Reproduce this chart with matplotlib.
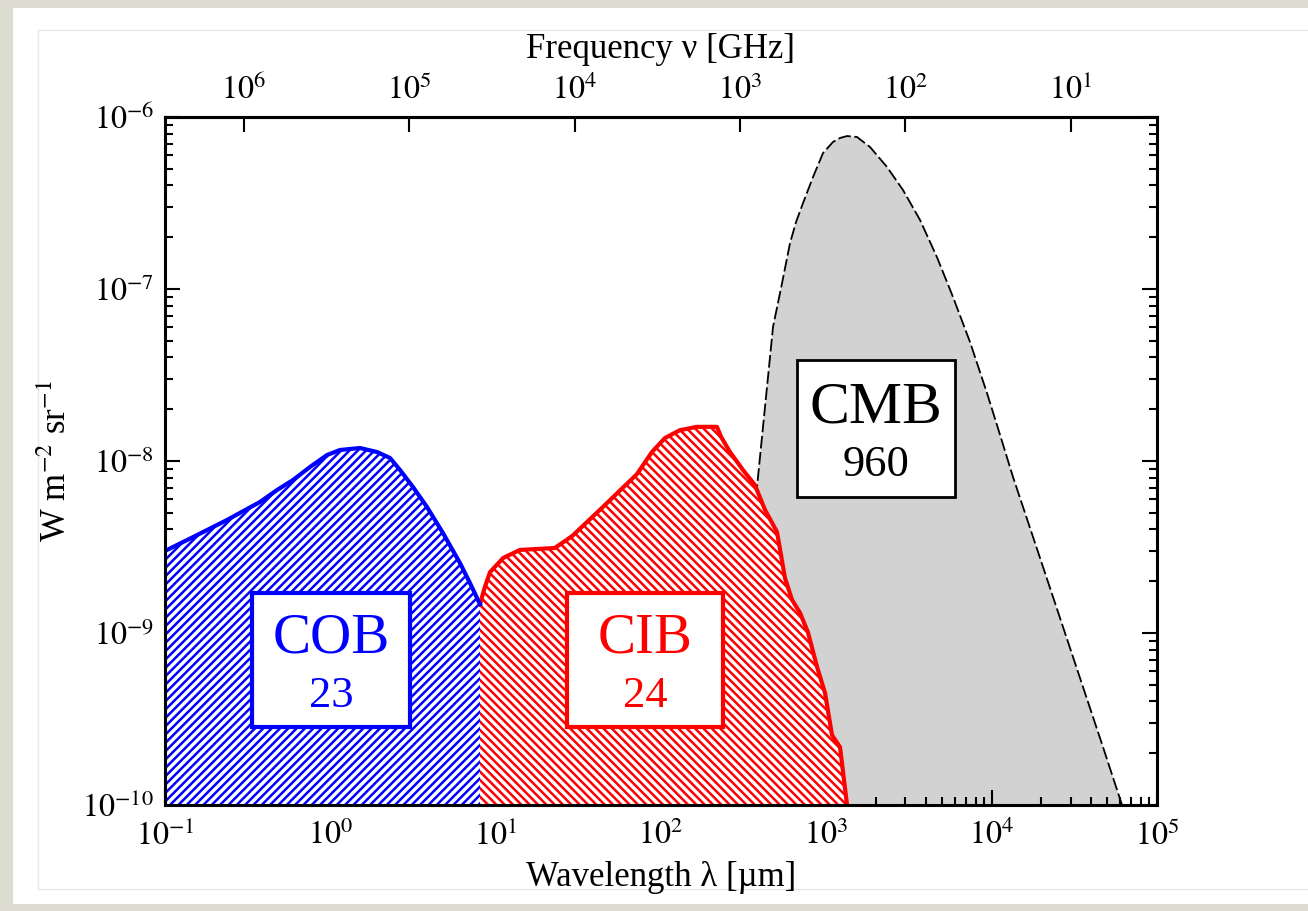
import numpy as np
import matplotlib
matplotlib.use("Agg")
import matplotlib.pyplot as plt
from matplotlib.patches import Rectangle
from matplotlib.ticker import NullLocator, LogLocator, NullFormatter

plt.rcParams['font.family'] = ['Liberation Serif', 'DejaVu Serif']
plt.rcParams['mathtext.fontset'] = 'stix'
plt.rcParams['hatch.linewidth'] = 1.8

# ---------------- data (wavelength in micron, intensity nu*I_nu in W m^-2 sr^-1)
cob_lam = [0.100, 0.1477, 0.2371, 0.3755, 0.4759, 0.5943, 0.7534, 0.9545, 1.144,
           1.511, 1.916, 2.296, 2.638, 3.162, 3.843, 4.802, 6.085, 6.995, 8.04]
cob_I = [3.00e-9, 3.61e-9, 4.54e-9, 5.78e-9, 6.78e-9, 7.75e-9, 9.23e-9, 10.83e-9,
         11.59e-9, 11.90e-9, 11.28e-9, 10.41e-9, 8.87e-9, 7.06e-9, 5.40e-9, 3.81e-9,
         2.55e-9, 1.95e-9, 1.47e-9]

cib_lam = [8.04, 8.6, 9.25, 11.1, 14.0, 22.8, 29.0, 44.6, 71.6, 88.3, 105.7, 130,
           165, 218, 231, 261, 313, 370, 426, 503, 562, 620, 693, 774, 879, 982,
           1082, 1210, 1334]
cib_I = [1.47e-9, 1.85e-9, 2.26e-9, 2.73e-9, 3.04e-9, 3.12e-9, 3.66e-9, 5.41e-9,
         8.40e-9, 11.3e-9, 13.6e-9, 15.1e-9, 15.8e-9, 15.8e-9, 13.8e-9, 11.3e-9,
         8.87e-9, 7.25e-9, 5.19e-9, 3.87e-9, 2.09e-9, 1.56e-9, 1.31e-9, 1.01e-9,
         0.634e-9, 0.448e-9, 0.255e-9, 0.217e-9, 0.10e-9]

cmb_lam = [280.3, 309.0, 336.0, 355.1, 380.8, 414.0, 443.9, 475.8, 539.5, 603.1,
           655.7, 722.8, 830.9, 954.8, 1097.5, 1210, 1334, 1533, 1838, 2328, 2910,
           3686, 4670, 5838, 7396, 9372, 11233, 13464, 18810, 23500, 29780, 37730,
           47160, 61430]
cmb_I = [1.0e-10, 4.08e-10, 1.36e-9, 2.66e-9, 7.06e-9, 1.58e-8, 3.08e-8, 6.01e-8,
         1.08e-7, 1.85e-7, 2.45e-7, 3.16e-7, 4.48e-7, 6.17e-7, 7.16e-7, 7.55e-7,
         7.75e-7, 7.65e-7, 6.69e-7, 5.12e-7, 3.76e-7, 2.52e-7, 1.53e-7, 8.98e-8,
         4.92e-8, 2.48e-8, 1.42e-8, 8.07e-9, 3.08e-9, 1.62e-9, 8.18e-10, 4.13e-10,
         2.17e-10, 1.0e-10]

labels = ["COB", "CIB", "CMB"]
label_values = ["23", "24", "960"]

x_ticks = [1e-1, 1e0, 1e1, 1e2, 1e3, 1e4, 1e5]
x_tick_labels = [r"$10^{-1}$", r"$10^{0}$", r"$10^{1}$", r"$10^{2}$", r"$10^{3}$",
                 r"$10^{4}$", r"$10^{5}$"]
y_ticks = [1e-10, 1e-9, 1e-8, 1e-7, 1e-6]
y_tick_labels = [r"$10^{-10}$", r"$10^{-9}$", r"$10^{-8}$", r"$10^{-7}$", r"$10^{-6}$"]
nu_ticks = [1e6, 1e5, 1e4, 1e3, 1e2, 1e1]
nu_tick_labels = [r"$10^{6}$", r"$10^{5}$", r"$10^{4}$", r"$10^{3}$", r"$10^{2}$",
                  r"$10^{1}$"]
C_UM_GHZ = 2.998e5  # nu[GHz] = C / lambda[um]

# ---------------- figure
W, H = 1308, 911
fig = plt.figure(figsize=(W / 100, H / 100), dpi=100, facecolor='#dcddd0')
fig.add_artist(Rectangle((13 / W, 1 - 904 / H), (W - 13) / W, (904 - 8) / H,
                         transform=fig.transFigure, facecolor='white',
                         edgecolor='none', zorder=-10))
fig.add_artist(Rectangle((38 / W, 1 - 889 / H), (W + 20 - 38) / W, (889 - 30) / H,
                         transform=fig.transFigure, facecolor='none',
                         edgecolor='#e8e8e8', lw=1.0, zorder=-9))

ax = fig.add_axes([165 / W, 1 - 805 / H, (1157 - 165) / W, (805 - 117) / H])
ax.set_xscale('log')
ax.set_yscale('log')
ax.set_xlim(1e-1, 1e5)
ax.set_ylim(1e-10, 1e-6)
ax.set_facecolor('none')

# CMB
ax.fill_between(cmb_lam, cmb_I, 1e-12, facecolor='#d2d2d2', edgecolor='none', zorder=1)
ax.plot(cmb_lam, cmb_I, color='black', lw=1.3, ls=(0, (7, 2)), zorder=2)

# CIB
ax.fill_between(cib_lam, cib_I, 1e-12, facecolor='white', edgecolor='red',
                hatch='\\\\\\\\', linewidth=0, zorder=3)
ax.plot(cib_lam, cib_I, color='red', lw=3, zorder=4, solid_joinstyle='round')

# COB
ax.fill_between(cob_lam, cob_I, 1e-12, facecolor='white', edgecolor='blue',
                hatch='////', linewidth=0, zorder=3)
ax.plot(cob_lam, cob_I, color='blue', lw=3, zorder=4, solid_joinstyle='round')

# label boxes (axes fraction)
boxes = [
    (0.0877, 0.1134, 0.1593, 0.1947, 'blue', 3.0, 41, 32, 0.1673, 0.2413, 0.1584),
    (0.4052, 0.1134, 0.1573, 0.1947, 'red', 3.0, 41, 32, 0.4839, 0.2413, 0.1584),
    (0.6371, 0.4477, 0.1593, 0.1991, 'black', 2.0, 43, 32, 0.7167, 0.5756, 0.4942),
]
for (bx, by, bw, bh, col, lw, fs1, fs2, tx, ty1, ty2), lab, val in zip(boxes, labels, label_values):
    ax.add_patch(Rectangle((bx, by), bw, bh, transform=ax.transAxes, facecolor='white',
                           edgecolor=col, lw=lw, zorder=6))
    ax.text(tx, ty1, lab, transform=ax.transAxes, color=col, fontsize=fs1,
            ha='center', va='center', zorder=7)
    ax.text(tx, ty2, val, transform=ax.transAxes, color=col, fontsize=fs2,
            ha='center', va='center', zorder=7)

# ticks
ax.set_xticks(x_ticks, x_tick_labels)
ax.set_yticks(y_ticks, y_tick_labels)
ax.xaxis.set_minor_locator(LogLocator(base=10, subs=np.arange(2, 10), numticks=20))
ax.yaxis.set_minor_locator(LogLocator(base=10, subs=np.arange(2, 10), numticks=20))
ax.xaxis.set_minor_formatter(NullFormatter())
ax.yaxis.set_minor_formatter(NullFormatter())
ax.tick_params(which='both', direction='in', top=False, right=True, width=1.5,
               labelsize=23)
ax.tick_params(axis='x', which='both', pad=11)
ax.tick_params(axis='y', which='both', pad=8)
ax.tick_params(which='major', length=11)
ax.tick_params(which='minor', length=6)
for s in ax.spines.values():
    s.set_linewidth(2.2)
    s.set_zorder(10)


def lam2nu(l):
    l = np.asarray(l, dtype=float)
    with np.errstate(divide='ignore', invalid='ignore'):
        return C_UM_GHZ / l


secax = ax.secondary_xaxis('top', functions=(lam2nu, lam2nu))
secax.set_xticks(nu_ticks, nu_tick_labels)
secax.xaxis.set_minor_locator(NullLocator())
secax.tick_params(direction='in', length=11, width=1.5, labelsize=23, pad=8)
secax.spines['top'].set_linewidth(2.2)
secax.set_xlabel('Frequency ν [GHz]', fontsize=25, labelpad=12)

ax.set_xlabel('Wavelength λ [µm]', fontsize=25, labelpad=7)
ax.set_ylabel(r'W m$^{-2}$ sr$^{-1}$', fontsize=25, labelpad=6)

fig.savefig('out.png', dpi=100, facecolor=fig.get_facecolor())
